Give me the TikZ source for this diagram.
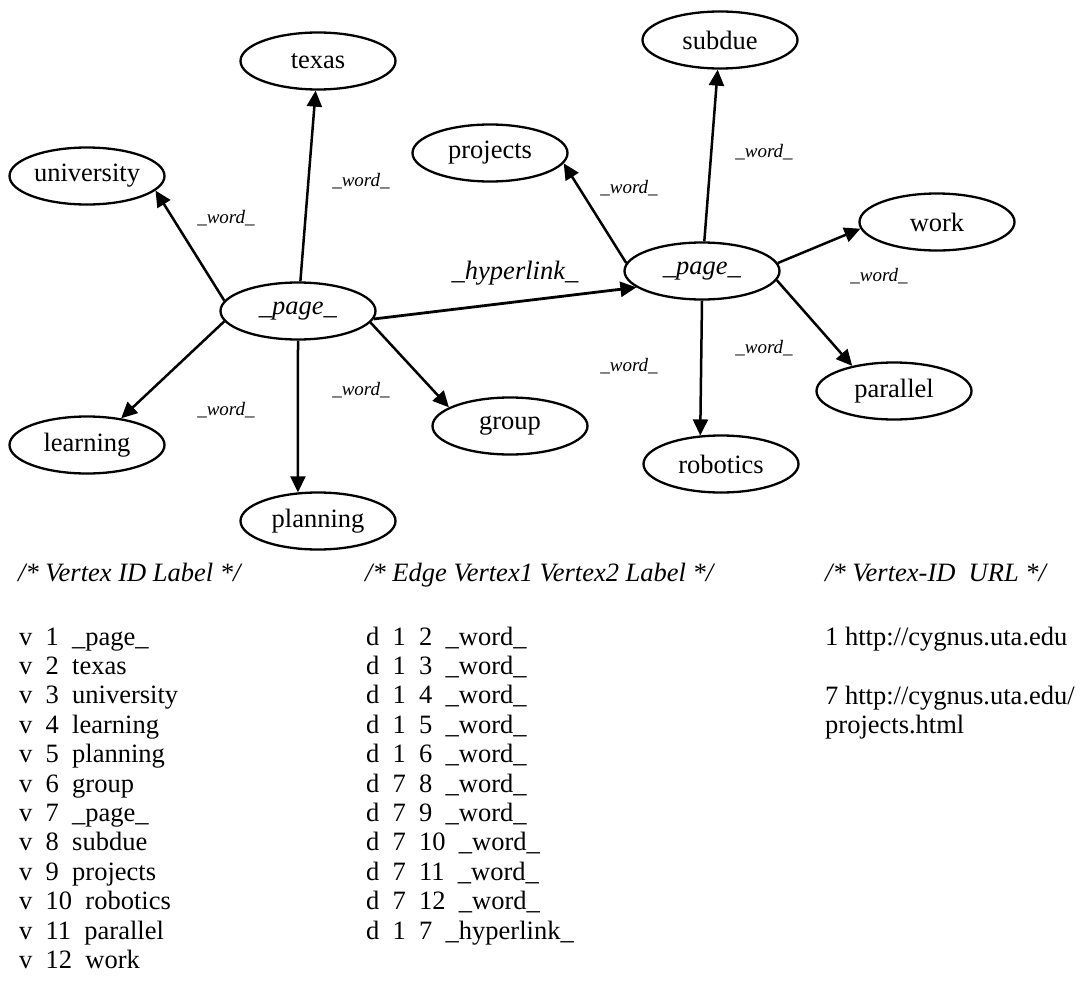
\documentclass[tikz,border=0pt]{standalone}
\usepackage{fontspec}
\setmainfont{Liberation Serif}
\usetikzlibrary{shapes.geometric,arrows.meta}
\tikzset{
  vertex/.style={draw, ellipse, line width=2.3pt, minimum width=155pt, minimum height=57pt, inner sep=0pt, font=\fontsize{26.5}{30}\selectfont},
  wedge/.style={line width=2.5pt, -{Triangle[length=16pt,width=15pt]}},
  wordlbl/.style={font=\fontsize{19}{22}\selectfont\itshape},
  tblrow/.style={anchor=base west, inner sep=0pt, font=\fontsize{26.5}{30}\selectfont},
}
\begin{document}
\begin{tikzpicture}[x=1pt,y=-1pt]
\useasboundingbox (0,0) rectangle (1081,982);
% first page and its words
\node[vertex] (page1) at (298,311) {\textit{\_page\_}};
\node[vertex] (texas) at (318,61) {texas};
\node[vertex] (university) at (87,176) {university};
\node[vertex] (learning) at (87,445) {learning};
\node[vertex] (planning) at (318,521) {planning};
\node[vertex] (group) at (510,426) {group};
% second page and its words
\node[vertex] (page2) at (702,271) {\textit{\_page\_}};
\node[vertex] (subdue) at (720,40) {subdue};
\node[vertex] (projects) at (490,153) {projects};
\node[vertex] (robotics) at (721,464) {robotics};
\node[vertex] (parallel) at (894,391) {parallel};
\node[vertex] (work) at (937,222) {work};

\draw[wedge] (page1) -- (texas);
\draw[wedge] (page1.172) -- (university.-12);
\draw[wedge] (page1.188) -- (learning.38);
\draw[wedge] (page1.south) -- (planning.125);
\draw[wedge] (page1.-9) -- (group.163);
\draw[wedge, line width=2.8pt] (page1.-6) -- (page2.194);
\draw[wedge] (page2) -- (subdue);
\draw[wedge] (page2.174) -- (projects.-8);
\draw[wedge] (page2.6) -- (work.185);
\draw[wedge] (page2.-7) -- (parallel.149);
\draw[wedge] (page2.south) -- (robotics.126);

\node[wordlbl] (w2) at (361,181) {\_word\_};
\node[wordlbl] (w3) at (226,218) {\_word\_};
\node[wordlbl] (w4) at (226,410) {\_word\_};
\node[wordlbl] (w5) at (361,390) {\_word\_};
\node[wordlbl] (w8) at (764,152) {\_word\_};
\node[wordlbl] (w9) at (629,188) {\_word\_};
\node[wordlbl] (w12) at (879,276) {\_word\_};
\node[wordlbl] (w11) at (764,348) {\_word\_};
\node[wordlbl] (w10) at (629,366) {\_word\_};
\node[font=\fontsize{26.5}{30}\selectfont\itshape] (hyper) at (515,273) {\_hyperlink\_};

% listing below the graph
\node[tblrow, font=\fontsize{26.5}{30}\selectfont\itshape] (headv) at (18,581) {/* Vertex ID Label */};
\node[tblrow, font=\fontsize{26.5}{30}\selectfont\itshape] (heade) at (365,581) {/* Edge Vertex1 Vertex2 Label */};
\node[tblrow, font=\fontsize{26.5}{30}\selectfont\itshape] (headu) at (825,581) {/* Vertex-ID\enspace URL */};
\foreach \i/\lbl [count=\n from 0] in {1/\_page\_, 2/texas, 3/university, 4/learning, 5/planning, 6/group, 7/\_page\_, 8/subdue, 9/projects, 10/robotics, 11/parallel, 12/work}
  \node[tblrow] (v\i) at (19,{645+\n*29.4}) {v\enspace\i\enspace\lbl};
\foreach \a/\b/\lbl [count=\n from 0] in {1/2/\_word\_, 1/3/\_word\_, 1/4/\_word\_, 1/5/\_word\_, 1/6/\_word\_, 7/8/\_word\_, 7/9/\_word\_, 7/10/\_word\_, 7/11/\_word\_, 7/12/\_word\_, 1/7/\_hyperlink\_}
  \node[tblrow] (d\n) at (366,{645+\n*29.4}) {d\enspace\a\enspace\b\enspace\lbl};
\node[tblrow] (url1) at (825,645) {1 http://cygnus.uta.edu};
\node[tblrow] (url7) at (825,704) {7 http://cygnus.uta.edu/};
\node[tblrow] (url7b) at (825,733) {projects.html};
\end{tikzpicture}
\end{document}
